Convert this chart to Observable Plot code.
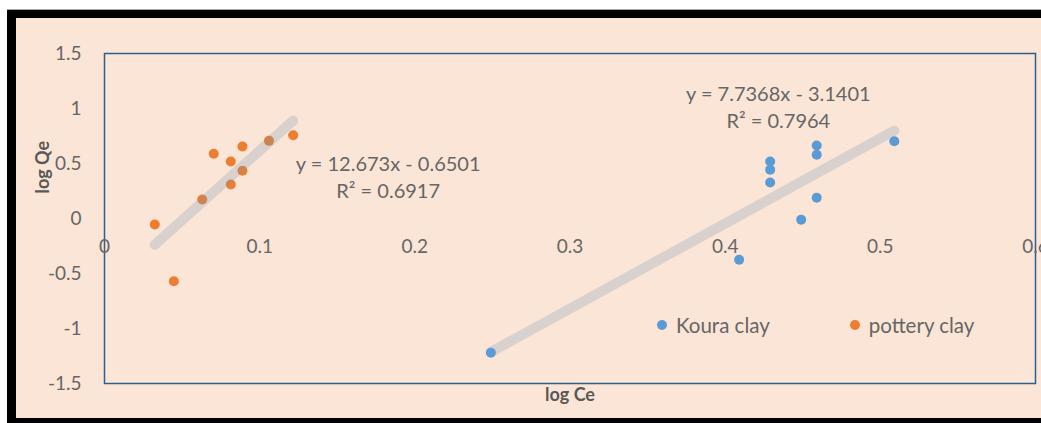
<!DOCTYPE html>
<html>
<head>
<meta charset="utf-8">
<script src="https://cdn.jsdelivr.net/npm/d3@7"></script>
<script src="https://cdn.jsdelivr.net/npm/@observablehq/plot@0.6"></script>
<style>
  html, body { margin: 0; padding: 0; background: #ffffff; width: 1041px; height: 423px; overflow: hidden; }
  #card {
    position: absolute; left: 7px; top: 10px; width: 1100px; height: 416px;
    box-sizing: border-box; background: #FBE5D6;
    border-style: solid; border-color: #000; border-width: 8px 0 8px 9px;
    box-shadow: 0 -1px 0 #a6a6a6;
  }
  #chart { position: absolute; left: 0; top: 0; }
  #legend {
    position: absolute; left: 657px; top: 313px;
    font-family: Lato, "Open Sans", sans-serif; font-size: 20.5px; color: #666;
    display: flex; align-items: center; white-space: nowrap;
  }
  #legend .item { display: flex; align-items: center; }
  #legend .sw { width: 10px; height: 10px; border-radius: 50%; margin-right: 9px; }
</style>
</head>
<body>
<div id="card"></div>
<div id="chart"></div>
<div id="legend"></div>
<script>
// Freundlich isotherm: log Qe against log Ce for two clays
const seriesNames = ["Koura clay", "pottery clay"];
const seriesColors = ["#5B9BD5", "#ED7D31"];

const kouraLogCe = [0.249, 0.409, 0.429, 0.429, 0.429, 0.449, 0.459, 0.459, 0.459, 0.509];
const kouraLogQe = [-1.22, -0.375, 0.518, 0.443, 0.327, -0.012, 0.664, 0.579, 0.188, 0.703];

const potteryLogCe = [0.0324, 0.0447, 0.063, 0.0704, 0.0814, 0.0814, 0.0889, 0.0889, 0.106, 0.1216];
const potteryLogQe = [-0.055, -0.57, 0.173, 0.588, 0.518, 0.309, 0.655, 0.434, 0.706, 0.757];

// linear fits (slope, intercept, R²) in series order
const slopes = [7.7368, 12.673];
const intercepts = [-3.1401, -0.6501];
const rSquared = [0.7964, 0.6917];

const xTicks = [0, 0.1, 0.2, 0.3, 0.4, 0.5, 0.6];
const yTicks = [-1.5, -1, -0.5, 0, 0.5, 1, 1.5];

const xs = [kouraLogCe, potteryLogCe];
const ys = [kouraLogQe, potteryLogQe];

const points = seriesNames.map((name, i) =>
  xs[i].map((x, j) => ({series: name, x, y: ys[i][j]})));

// trendline spans the x range of each series
const trends = seriesNames.map((name, i) => {
  const lo = d3.min(xs[i]), hi = d3.max(xs[i]);
  return [lo, hi].map(x => ({series: name, x, y: slopes[i] * x + intercepts[i]}));
});

const fmtSigned = v => (v < 0 ? " - " : " + ") + Math.abs(v);
const labels = seriesNames.map((name, i) => {
  const hi = d3.max(xs[i]);
  return [{
    x: hi, y: slopes[i] * hi + intercepts[i],
    text: `y = ${slopes[i]}x${fmtSigned(intercepts[i])}\nR² = ${rSquared[i].toFixed(4)}`
  }];
});

const trendStyle = {
  x: "x", y: "y", stroke: "rgb(110,150,185)", strokeOpacity: 0.25,
  strokeWidth: 10, strokeLinecap: "round"
};
const textFill = "#666";
const fontSize = 19;
const eqFontSize = 20;

const chart = Plot.plot({
  width: 1041,
  height: 423,
  marginLeft: 104,
  marginRight: 6,
  marginTop: 53,
  marginBottom: 40,
  style: {background: "transparent", fontFamily: "Lato, 'Open Sans', sans-serif", overflow: "visible"},
  x: {domain: [0, 0.6], axis: null},
  y: {domain: [-1.5, 1.5]},
  marks: [
    Plot.frame({stroke: "#2E5F8C", strokeWidth: 1.5}),
    Plot.axisY({ticks: yTicks, tickSize: 0, tickPadding: 23, tickFormat: d => String(d),
      fill: textFill, fontSize, label: null}),
    // category axis labels sit along y = 0
    Plot.text(xTicks, {x: d => d, y: () => 0, text: d => String(d), dy: 28,
      fill: textFill, fontSize}),
    Plot.text(["log Qe"], {frameAnchor: "left", rotate: -90, dx: -61, dy: -25,
      fill: "#595959", fontSize: 18, fontWeight: "bold"}),
    Plot.text(["log Ce"], {frameAnchor: "bottom", dy: 17,
      fill: "#595959", fontSize: 18, fontWeight: "bold"}),
    Plot.line(trends[0], trendStyle),
    Plot.dot(points[0], {x: "x", y: "y", r: 5, fill: seriesColors[0]}),
    Plot.dot(points[1], {x: "x", y: "y", r: 5, fill: seriesColors[1]}),
    Plot.line(trends[1], trendStyle),
    Plot.text(labels[0], {x: "x", y: "y", text: "text", dx: -116, dy: -25,
      lineHeight: 1.35, fill: textFill, fontSize: eqFontSize}),
    Plot.text(labels[1], {x: "x", y: "y", text: "text", dx: 95, dy: 55,
      lineHeight: 1.35, fill: textFill, fontSize: eqFontSize})
  ]
});
document.getElementById("chart").appendChild(chart);

const legend = d3.select("#legend");
seriesNames.forEach((name, i) => {
  const item = legend.append("div").attr("class", "item")
    .style("margin-right", i === 0 ? "80px" : "0px");
  item.append("div").attr("class", "sw").style("background", seriesColors[i]);
  item.append("span").text(name);
});
</script>
</body>
</html>
